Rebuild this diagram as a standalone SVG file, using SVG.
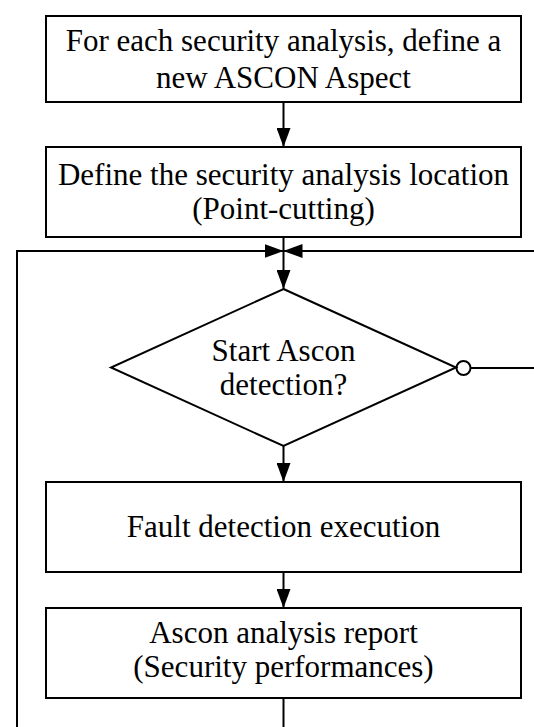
<svg xmlns="http://www.w3.org/2000/svg" width="534" height="727" viewBox="0 0 534 727">
  <style>
    .box { fill: #ffffff; stroke: #000000; stroke-width: 2; }
    .line { fill: none; stroke: #000000; stroke-width: 2; }
    .head { fill: #000000; stroke: none; }
  </style>
  <defs>
    <!-- solid triangular arrowhead, tip at the path end -->
    <marker id="arrow" markerWidth="19" markerHeight="14" refX="19" refY="7" orient="auto" markerUnits="userSpaceOnUse">
      <path class="head" d="M0,0 L19,7 L0,14 Z"/>
    </marker>
  </defs>

  <rect width="534" height="727" fill="#ffffff"/>

  <!-- connectors -->
  <g id="connectors">
    <line class="line" x1="283.5" y1="102" x2="283.5" y2="147" marker-end="url(#arrow)"/>
    <line class="line" x1="283.5" y1="237" x2="283.5" y2="251"/>
    <!-- loop-back line entering from the left and right -->
    <polyline class="line" points="17,727 17,251 283.5,251" marker-end="url(#arrow)"/>
    <polyline class="line" points="534,251 283.5,251" marker-end="url(#arrow)"/>
    <line class="line" x1="283.5" y1="251" x2="283.5" y2="289" marker-end="url(#arrow)"/>
    <!-- "no" branch of the decision -->
    <circle class="line" cx="463.5" cy="368" r="7"/>
    <line class="line" x1="470.5" y1="368" x2="534" y2="368"/>
    <line class="line" x1="283.5" y1="446" x2="283.5" y2="482" marker-end="url(#arrow)"/>
    <line class="line" x1="283.5" y1="572" x2="283.5" y2="608" marker-end="url(#arrow)"/>
    <line class="line" x1="283.5" y1="698" x2="283.5" y2="727"/>
  </g>

  <g font-family="Liberation Serif, Times New Roman, serif" font-size="31" fill="#000000" text-anchor="middle">
    <g id="define-aspect">
      <rect class="box" x="46" y="16" width="475" height="86"/>
      <text x="283.5" y="51">For each security analysis, define a</text>
      <text x="283.5" y="88">new ASCON Aspect</text>
    </g>

    <g id="define-location">
      <rect class="box" x="46" y="147" width="475" height="90"/>
      <text x="283.5" y="185">Define the security analysis location</text>
      <text x="283.5" y="219">(Point-cutting)</text>
    </g>

    <g id="start-detection">
      <polygon class="box" points="283.5,289 456,367.5 283.5,446 111,367.5"/>
      <text x="283.5" y="361">Start Ascon</text>
      <text x="283.5" y="395">detection?</text>
    </g>

    <g id="fault-detection">
      <rect class="box" x="46" y="482" width="475" height="90"/>
      <text x="283.5" y="537">Fault detection execution</text>
    </g>

    <g id="analysis-report">
      <rect class="box" x="46" y="608" width="475" height="90"/>
      <text x="283.5" y="643">Ascon analysis report</text>
      <text x="283.5" y="677">(Security performances)</text>
    </g>
  </g>
</svg>
